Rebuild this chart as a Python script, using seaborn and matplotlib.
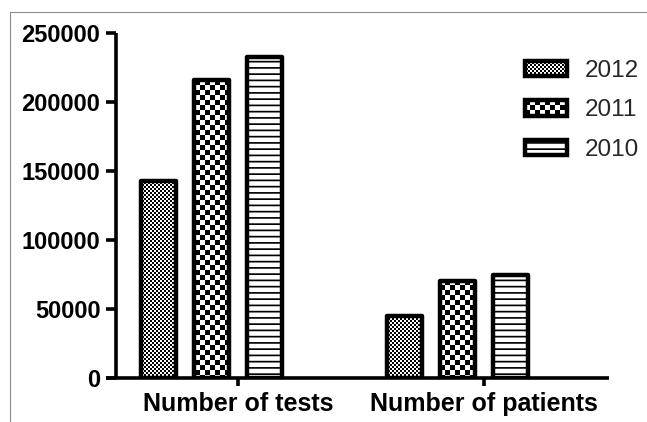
import numpy as np
import pandas as pd
import matplotlib
matplotlib.use("Agg")
import matplotlib.pyplot as plt
import matplotlib.patches as mpatches
from matplotlib import hatch as mhatch
from matplotlib.path import Path
from matplotlib.lines import Line2D
import seaborn as sns

# ---------------- data ----------------
categories = ["Number of tests", "Number of patients"]
years = ["2012", "2011", "2010"]
values_2012 = [143000, 45000]
values_2011 = [216000, 70000]
values_2010 = [232500, 75000]
y_ticks = [0, 50000, 100000, 150000, 200000, 250000]
y_tick_labels = ["0", "50000", "100000", "150000", "200000", "250000"]

# ---------------- custom fill patterns (checkerboards / stripes) ----------------
MOVE, LINE, CLOSE = Path.MOVETO, Path.LINETO, Path.CLOSEPOLY


class _Checker(mhatch.HatchPatternBase):
    char = "o"
    cells = 50

    def __init__(self, hatch, density):
        n = self.cells
        self.count = (n * n // 2) if (hatch and self.char in hatch) else 0
        self.num_vertices = self.count * 5

    def set_vertices_and_codes(self, vertices, codes):
        n = self.cells
        s = 1.0 / n
        k = 0
        for i in range(n):
            for j in range(n):
                if (i + j) % 2 == 0:
                    x, y = i * s, j * s
                    vertices[k:k + 5] = [(x, y), (x + s, y), (x + s, y + s), (x, y + s), (x, y)]
                    codes[k:k + 5] = [MOVE, LINE, LINE, LINE, CLOSE]
                    k += 5


class FineChecker(_Checker):
    char = "o"
    cells = 50


class CoarseChecker(_Checker):
    char = "O"
    cells = 20


class Stripes(mhatch.HatchPatternBase):
    n = 16
    t = 0.017

    def __init__(self, hatch, density):
        self.num_vertices = self.n * 5 if (hatch and "-" in hatch) else 0

    def set_vertices_and_codes(self, vertices, codes):
        p = 1.0 / self.n
        for j in range(self.n):
            y = j * p
            vertices[5 * j:5 * j + 5] = [(0, y), (1, y), (1, y + self.t), (0, y + self.t), (0, y)]
            codes[5 * j:5 * j + 5] = [MOVE, LINE, LINE, LINE, CLOSE]


mhatch._hatch_types[:] = [FineChecker, CoarseChecker, Stripes]
hatch_for_year = {"2012": "o", "2011": "O", "2010": "-"}

# ---------------- styling ----------------
sns.set_style("ticks")
plt.rcParams["font.family"] = ["Liberation Sans", "DejaVu Sans"]
plt.rcParams["hatch.linewidth"] = 0.0
plt.rcParams["hatch.color"] = "black"

df = pd.DataFrame({
    "metric": categories * 3,
    "year": [years[0]] * 2 + [years[1]] * 2 + [years[2]] * 2,
    "count": values_2012 + values_2011 + values_2010,
})

hue_order = years + ["_"]          # 4th (empty) slot like the original layout
palette = {h: "white" for h in hue_order}

DPI = 100
fig = plt.figure(figsize=(6.47, 4.22), dpi=DPI)
ax = fig.add_axes([106 / 647, 44 / 422, 503 / 647, 345 / 422])

group_width = 0.857
sns.barplot(data=df, x="metric", y="count", hue="year", hue_order=hue_order,
            order=categories, palette=palette, width=group_width, gap=0.336,
            dodge=True, legend=False, edgecolor="black", linewidth=3.2,
            saturation=1, errorbar=None, ax=ax)

slot_w = group_width / 4
for p in ax.patches:
    cx = p.get_x() + p.get_width() / 2
    off = cx - round(cx)
    slot = int(round(off / slot_w + 1.5))
    if 0 <= slot < 3:
        p.set_hatch(hatch_for_year[years[slot]])
    p.set_joinstyle("round")
    p.set_edgecolor("black")
    p.set_facecolor("white")

ax.set_xlim(-0.5366, 1.508)
ax.set_ylim(0, 250000)
ax.set_yticks(y_ticks)
ax.set_yticklabels(y_tick_labels)
ax.set_xlabel("")
ax.set_ylabel("")

for side in ["top", "right"]:
    ax.spines[side].set_visible(False)
ax.spines["left"].set_position(("axes", 10 / 503))
for side in ["left", "bottom"]:
    ax.spines[side].set_linewidth(2.6)
    ax.spines[side].set_color("black")
    ax.spines[side].set_capstyle("butt")

ax.tick_params(axis="y", direction="out", length=7.2, width=2.6, pad=4.0,
               labelsize=17, colors="black")
ax.tick_params(axis="x", direction="out", length=5.8, width=2.6, pad=4.5,
               labelsize=18, colors="black")
for lab in ax.get_yticklabels() + ax.get_xticklabels():
    lab.set_fontweight("bold")

handles = [mpatches.Patch(facecolor="white", edgecolor="black", linewidth=3.2,
                          hatch=hatch_for_year[y], joinstyle="round", label=y)
           for y in years]
fig.legend(handles=handles, loc="upper left", bbox_to_anchor=(525 / 647, 1 - 60 / 422),
           frameon=False, fontsize=17.5, handlelength=1.72, handleheight=0.62,
           handletextpad=0.75, labelspacing=0.72, borderpad=0, borderaxespad=0)

# thin grey frame (top and left edges, as in the cropped original)
fig.add_artist(Line2D([10 / 647, 1.0], [1 - 12 / 422, 1 - 12 / 422],
                      transform=fig.transFigure, color="#8c8c8c", lw=0.8))
fig.add_artist(Line2D([10 / 647, 10 / 647], [0, 1 - 12 / 422],
                      transform=fig.transFigure, color="#8c8c8c", lw=0.8))

fig.savefig("out.png", dpi=DPI, facecolor="white")
